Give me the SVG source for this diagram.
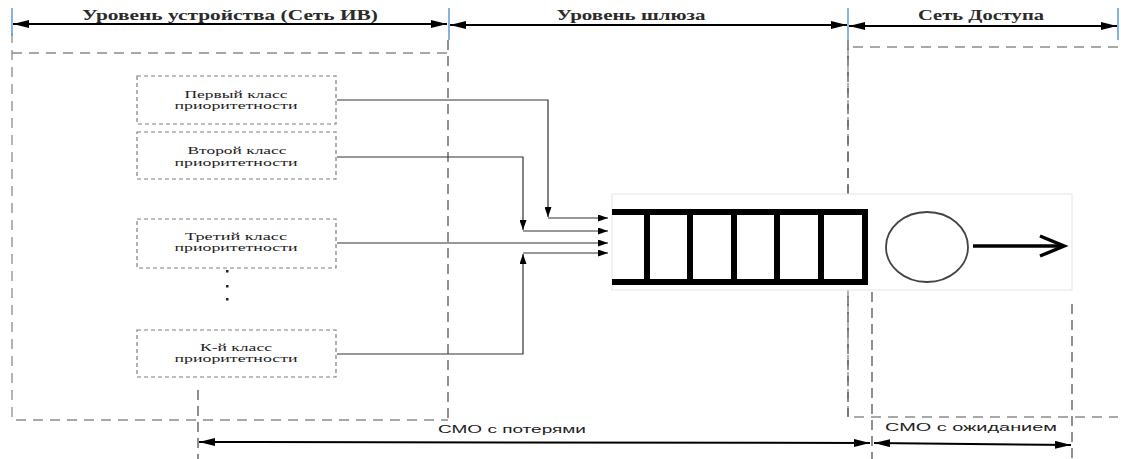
<svg xmlns="http://www.w3.org/2000/svg" width="1121" height="459" viewBox="0 0 1121 459">
<style>
.blue{stroke:#5b9bd5;stroke-width:1.5}
.region{fill:none;stroke:#8c8c8c;stroke-width:1.3;stroke-dasharray:10 7}
.vdash{fill:none;stroke:#555;stroke-width:1.3;stroke-dasharray:10 6}
.box{fill:#fff;stroke:#7f7f7f;stroke-width:1.2;stroke-dasharray:4 3}
.big{stroke:#000;stroke-width:2;fill:none}
.con{stroke:#333;stroke-width:1.2;fill:none}
.hdr{font-family:"Liberation Serif",serif;font-weight:bold;font-size:14px;fill:#2b2b2b;text-anchor:middle}
.nt{font-family:"Liberation Serif",serif;font-size:11px;fill:#222;text-anchor:middle}
.bt{font-family:"Liberation Sans",sans-serif;font-size:11.5px;fill:#222;text-anchor:middle}
.q{stroke:#000;stroke-width:6;fill:none}
</style>
<defs>
<marker id="ab" viewBox="0 0 16 8" refX="16" refY="4" markerWidth="16" markerHeight="8" markerUnits="userSpaceOnUse" orient="auto-start-reverse"><path d="M0,0 L16,4 L0,8 z" fill="#000"/></marker>
<marker id="as" viewBox="0 0 10 7" refX="10" refY="3.5" markerWidth="10" markerHeight="7" markerUnits="userSpaceOnUse" orient="auto"><path d="M0,0 L10,3.5 L0,7 z" fill="#000"/></marker>
</defs>

<!-- regions -->
<g id="regions">
<path class="region" d="M12,33 V420 H448"/>
<line class="region" x1="12" y1="53" x2="448" y2="53"/>
<line class="vdash" x1="448" y1="40" x2="448" y2="420"/>
<path class="region" d="M1118,47 H848 V417 H1118"/>
<line class="vdash" x1="848" y1="40" x2="848" y2="417"/>
<line class="vdash" x1="198" y1="390" x2="198" y2="459"/>
<line class="vdash" x1="872" y1="292" x2="872" y2="459"/>
<line class="vdash" x1="1072" y1="304" x2="1072" y2="459"/>
</g>

<!-- header -->
<g id="header">
<line class="blue" x1="12" y1="8" x2="12" y2="36"/>
<line class="blue" x1="449" y1="8" x2="449" y2="40"/>
<line class="blue" x1="848" y1="8" x2="848" y2="40"/>
<line class="blue" x1="1118" y1="8" x2="1118" y2="40"/>
<line class="big" x1="13" y1="24" x2="447" y2="24" marker-start="url(#ab)" marker-end="url(#ab)"/>
<line class="big" x1="450" y1="25" x2="847" y2="25" marker-start="url(#ab)" marker-end="url(#ab)"/>
<line class="big" x1="849" y1="26" x2="1117" y2="26" marker-start="url(#ab)" marker-end="url(#ab)"/>
<text class="hdr" x="230" y="20" textLength="296" lengthAdjust="spacingAndGlyphs">Уровень устройства (Сеть ИВ)</text>
<text class="hdr" x="631" y="20" textLength="149" lengthAdjust="spacingAndGlyphs">Уровень шлюза</text>
<text class="hdr" x="981" y="20" textLength="126" lengthAdjust="spacingAndGlyphs">Сеть Доступа</text>
</g>

<!-- nodes -->
<g id="n1"><rect class="box" x="137" y="76" width="199" height="48"/>
<text class="nt" x="236" y="98" textLength="103" lengthAdjust="spacingAndGlyphs">Первый класс</text><text class="nt" x="236" y="109" textLength="123" lengthAdjust="spacingAndGlyphs">приоритетности</text></g>
<g id="n2"><rect class="box" x="137" y="132" width="199" height="47"/>
<text class="nt" x="237" y="154" textLength="99" lengthAdjust="spacingAndGlyphs">Второй класс</text><text class="nt" x="236" y="166" textLength="123" lengthAdjust="spacingAndGlyphs">приоритетности</text></g>
<g id="n3"><rect class="box" x="137" y="219" width="199" height="49"/>
<text class="nt" x="236" y="240" textLength="102" lengthAdjust="spacingAndGlyphs">Третий  класс</text><text class="nt" x="236" y="251" textLength="123" lengthAdjust="spacingAndGlyphs">приоритетности</text></g>
<g id="dots" fill="#222"><rect x="226" y="270" width="2.5" height="2.5"/><rect x="226" y="285" width="2.5" height="2.5"/><rect x="226" y="298" width="2.5" height="2.5"/></g>
<g id="nk"><rect class="box" x="137" y="330" width="199" height="47"/>
<text class="nt" x="236" y="351" textLength="72" lengthAdjust="spacingAndGlyphs">К-й класс</text><text class="nt" x="236" y="362" textLength="123" lengthAdjust="spacingAndGlyphs">приоритетности</text></g>

<!-- queue + server -->
<g id="queue">
<rect x="612" y="194" width="460" height="96" fill="#fff" stroke="#e6e6e6" stroke-width="1"/>
<line class="q" x1="612" y1="212" x2="867" y2="212"/>
<line class="q" x1="612" y1="282" x2="867" y2="282"/>
<line class="q" x1="647" y1="209" x2="647" y2="285"/>
<line class="q" x1="690" y1="209" x2="690" y2="285"/>
<line class="q" x1="734" y1="209" x2="734" y2="285"/>
<line class="q" x1="777" y1="209" x2="777" y2="285"/>
<line class="q" x1="821" y1="209" x2="821" y2="285"/>
<line class="q" x1="865" y1="209" x2="865" y2="285"/>
</g>
<g id="server">
<ellipse cx="927" cy="247" rx="41" ry="35" fill="none" stroke="#444" stroke-width="1.8"/>
<line x1="973" y1="246" x2="1063" y2="246" stroke="#000" stroke-width="3.5"/>
<path d="M1040,236 L1064,246 L1040,256" fill="none" stroke="#000" stroke-width="3.5"/>
</g>

<!-- connectors -->
<g id="connectors">
<path class="con" d="M337,100 H548 V217" marker-end="url(#as)"/>
<line class="con" x1="548" y1="218" x2="608" y2="218" marker-end="url(#as)"/>
<path class="con" d="M337,157 H523 V230" marker-end="url(#as)"/>
<line class="con" x1="523" y1="231" x2="608" y2="231" marker-end="url(#as)"/>
<line class="con" x1="337" y1="243" x2="608" y2="243" marker-end="url(#as)"/>
<path class="con" d="M337,354 H523 V254" marker-end="url(#as)"/>
<line class="con" x1="523" y1="253" x2="608" y2="253" marker-end="url(#as)"/>
</g>

<!-- bottom -->
<g id="bottom">
<line class="big" x1="199" y1="442" x2="870" y2="443" marker-start="url(#ab)" marker-end="url(#ab)"/>
<line class="big" x1="874" y1="443" x2="1071" y2="445" marker-start="url(#ab)" marker-end="url(#ab)"/>
<text class="bt" x="512" y="433" textLength="148" lengthAdjust="spacingAndGlyphs">СМО с потерями</text>
<text class="bt" x="971" y="431" textLength="172" lengthAdjust="spacingAndGlyphs">СМО с ожиданием</text>
</g>
</svg>
